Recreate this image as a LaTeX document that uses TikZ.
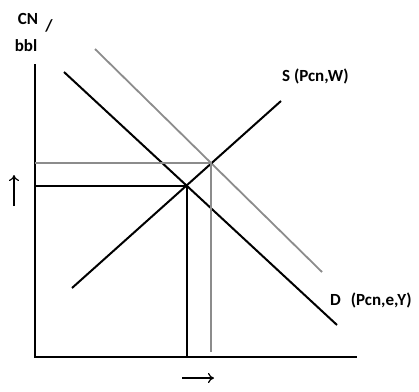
\documentclass[tikz,border=0pt]{standalone}
\usepackage{fontspec}
\setmainfont{Carlito}
\usepackage{xcolor}
\usepackage{tikz}
\usetikzlibrary{arrows.meta}

\begin{document}
\begin{tikzpicture}[x=1pt,y=-1pt,
        lbl/.style={font=\fontsize{17}{18}\selectfont\bfseries,inner sep=0pt},
        curve/.style={line width=2pt},
        shifted/.style={line width=1.8pt,black!45},
        hint/.style={line width=1.2pt,-{To[length=6pt,width=10pt]}}]
        \useasboundingbox (0,0) rectangle (419,391);

        % axes
        \coordinate (o) at (35,357);
        \coordinate (ytop) at (35,64);
        \coordinate (xend) at (357,357);
        \draw[curve] (ytop) -- (o) -- (xend);

        % curves
        \coordinate (d1) at (64,72);
        \coordinate (d2) at (337,325);
        \coordinate (dd1) at (95,49);
        \coordinate (dd2) at (322,272);
        \coordinate (s1) at (72,288);
        \coordinate (s2) at (281,101);

        \draw[curve] (d1) -- (d2);
        \draw[shifted] (dd1) -- (dd2);
        \draw[curve] (s1) -- (s2);

        % equilibria
        \coordinate (e1) at (intersection of d1--d2 and s1--s2);
        \coordinate (e2) at (intersection of dd1--dd2 and s1--s2);
        \coordinate (p1) at (e1 -| o);
        \coordinate (q1) at (e1 |- o);
        \coordinate (p2) at (e2 -| o);
        \coordinate (q2) at ([yshift=5]e2 |- o);

        \draw[shifted] (p2) -- (e2) -- (q2);
        \draw[curve] (p1) -- (e1) -- (q1);

        % labels
        \node[lbl] (cn) at (28,19) {CN};
        \node[lbl] (sl) at (49,26) {/};
        \node[lbl] (bbl) at (26,46) {bbl};
        \node[lbl,anchor=west] (sl) at (282,76) {S (Pcn,W)};
        \node[lbl,anchor=west] (dl) at (330,300) {D\hspace{10pt}(Pcn,e,Y)};

        % shift hints
        \coordinate (u1) at (14,206);
        \coordinate (u2) at (14,175);
        \coordinate (r1) at (182,378);
        \coordinate (r2) at (214,378);
        \draw[hint] (u1) -- (u2);
        \draw[hint] (r1) -- (r2);
    \end{tikzpicture}
\end{document}
